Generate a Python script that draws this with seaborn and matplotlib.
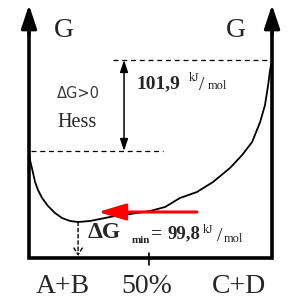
import matplotlib
matplotlib.use('Agg')
import matplotlib.pyplot as plt
import seaborn as sns

# Datos de la curva de energía libre (composición en %, G en unidades arbitrarias)
comp_pct = [0, 0.4, 1.2, 2.5, 3.7, 5.4, 7.8, 10.7, 13.6, 16.9, 20.2, 25.1, 29.2, 35.4,
            41.6, 49.8, 56.0, 62.1, 69.1, 75.7, 82.7, 87.7, 91.8, 95.1, 97.1, 98.4, 99.2, 100]
g_curve = [42.8, 39.2, 36.0, 30.4, 27.2, 24.0, 20.8, 18.0, 16.0, 14.8, 14.4, 14.8, 15.6, 16.8,
           17.6, 18.8, 20.4, 24.0, 26.4, 30.4, 36.0, 41.2, 46.4, 54.4, 61.2, 69.2, 75.2, 79.2]

g_reactivos = 42.8
g_productos = 79.2
x_min = 20.2
g_min = 14.4
g_axis_top = 101.2
red_arrow_x = [69.1, 28.4]
red_arrow_g = 18.4

x_labels = ['A+B', '50%', 'C+D']
x_label_pos = [13.8, 48.6, 86.4]
x_tick = 49.4

sns.set_theme(style='white')
plt.rcParams['font.family'] = ['Liberation Serif', 'DejaVu Serif']

fig = plt.figure(figsize=(2.91, 2.98), dpi=100)
ax = fig.add_axes([0, 0, 1, 1])
ax.set_xlim(-11.93, 107.8)
ax.set_ylim(-16.0, 103.2)
ax.axis('off')

# ejes (marco en U con flechas)
ax.plot([0, 0, 100, 100], [g_axis_top - 8, 0, 0, g_axis_top - 8], color='black', lw=2.6,
        solid_joinstyle='miter', solid_capstyle='butt')
for xa in [0, 100]:
    ax.annotate('', xy=(xa, g_axis_top), xytext=(xa, g_axis_top - 12),
                arrowprops=dict(arrowstyle='-|>,head_length=1.2,head_width=0.4', lw=2.2,
                                color='black', shrinkA=0, shrinkB=0))

# tick 50%
ax.plot([x_tick, x_tick], [2.0, -2.8], color='black', lw=1.2)

# líneas discontinuas de nivel
ax.plot([1, 55], [g_reactivos, g_reactivos], color='black', lw=0.9, ls=(0, (4, 3)))
ax.plot([34.6, 100], [g_productos, g_productos], color='black', lw=0.9, ls=(0, (4, 3)))

# curva
sns.lineplot(x=comp_pct, y=g_curve, color='black', lw=1.3, sort=False, ax=ax)

# flecha doble ΔG
ax.annotate('', xy=(39.1, g_productos), xytext=(39.1, g_reactivos),
            arrowprops=dict(arrowstyle='<|-|>,head_length=0.6,head_width=0.2', lw=1.1,
                            color='black', shrinkA=0, shrinkB=0))

# flecha discontinua al mínimo
ax.annotate('', xy=(x_min, 0.8), xytext=(x_min, g_min),
            arrowprops=dict(arrowstyle='->,head_length=0.4,head_width=0.25', lw=1.0,
                            ls=(0, (2.5, 2)), color='black', shrinkA=0, shrinkB=0))

# flecha roja
ax.annotate('', xy=(red_arrow_x[1], red_arrow_g), xytext=(red_arrow_x[0], red_arrow_g),
            arrowprops=dict(arrowstyle='-|>,head_length=1.4,head_width=0.42', lw=2.2,
                            color='red', shrinkA=0, shrinkB=0))

# textos
ax.text(14.2, 88.4, 'G', fontsize=20, ha='center', va='baseline')
ax.text(85.0, 88.4, 'G', fontsize=20, ha='center', va='baseline')
ax.text(20.2, 64.0, 'ΔG>0', fontsize=10.5, family='DejaVu Sans', color='#3a3a3a',
        ha='center', va='baseline')
ax.text(19.8, 52.4, 'Hess', fontsize=14.5, ha='center', va='baseline')

ax.text(44.4, 68.0, '101,9', fontsize=14, fontweight='bold', va='baseline')
ax.text(65.6, 70.8, 'kJ', fontsize=8.5, va='baseline')
ax.text(69.8, 67.2, '/', fontsize=14, va='baseline')
ax.text(73.6, 67.6, 'mol', fontsize=9, va='baseline')

ax.text(24.3, 8.0, 'ΔG', fontsize=17, fontweight='bold', va='baseline')
ax.text(42.4, 6.0, 'min', fontsize=8, fontweight='bold', va='baseline')
ax.text(50.2, 8.0, '=', fontsize=14, fontweight='bold', va='baseline')
ax.text(56.8, 8.0, '99,8', fontsize=13.5, fontweight='bold', va='baseline')
ax.text(71.6, 10.0, 'kJ', fontsize=8.5, va='baseline')
ax.text(77.2, 6.8, '/', fontsize=14, va='baseline')
ax.text(80.2, 6.4, 'mol', fontsize=9, va='baseline')

for lab, xp in zip(x_labels, x_label_pos):
    ax.text(xp, -14.0, lab, fontsize=20, ha='center', va='baseline')

fig.savefig('out.png', dpi=100, facecolor='white')
